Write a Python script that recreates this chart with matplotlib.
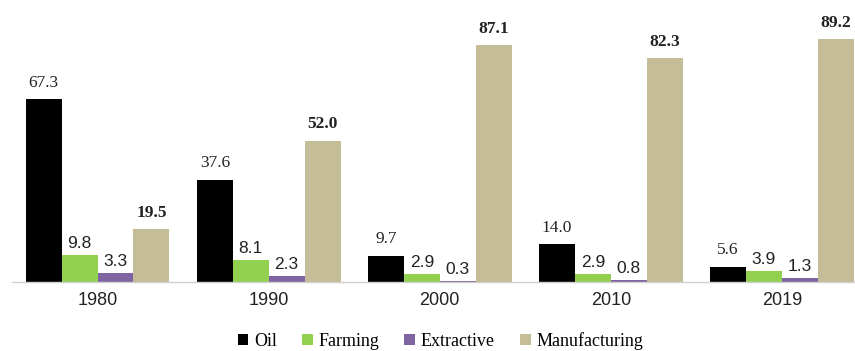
import numpy as np
import matplotlib.pyplot as plt

years = ['1980', '1990', '2000', '2010', '2019']
oil = [67.3, 37.6, 9.7, 14.0, 5.6]
farming = [9.8, 8.1, 2.9, 2.9, 3.9]
extractive = [3.3, 2.3, 0.3, 0.8, 1.3]
manufacturing = [19.5, 52.0, 87.1, 82.3, 89.2]

series = [
    ('Oil', oil, '#000000'),
    ('Farming', farming, '#92D050'),
    ('Extractive', extractive, '#8064A2'),
    ('Manufacturing', manufacturing, '#C4BD97'),
]

fig = plt.figure(figsize=(8.55, 3.51), dpi=100)
ax = fig.add_axes([12 / 855, 69 / 351, 1 - 12 / 855, 272 / 351])

x = np.arange(len(years))
w = 0.21
serif = 'Liberation Serif'
sans = 'Liberation Sans'

for i, (name, vals, col) in enumerate(series):
    pos = x + (i - 1.5) * w
    bars = ax.bar(pos, vals, w, color=col, label=name, linewidth=0)
    for b, v in zip(bars, vals):
        if name == 'Oil':
            kw = dict(family=serif, fontsize=12.5)
            off = 6
        elif name == 'Manufacturing':
            kw = dict(family=serif, fontsize=12.5, fontweight='bold')
            off = 6
        else:
            kw = dict(family=sans, fontsize=12.5)
            off = 3
        ax.annotate(f'{v:.1f}', (b.get_x() + b.get_width() / 2, v),
                    xytext=(0, off), textcoords='offset points',
                    ha='center', va='bottom', color='#222222', **kw)

ax.set_xlim(-0.5, 4.427)
ax.set_ylim(0, 100)
ax.set_xticks(x)
ax.set_xticklabels(years, family=sans, fontsize=13, color='#222222')
ax.tick_params(axis='x', length=0, pad=7)
ax.set_yticks([])
for s in ['top', 'right', 'left']:
    ax.spines[s].set_visible(False)
ax.spines['bottom'].set_color('#d0d0d0')
ax.spines['bottom'].set_linewidth(1)

fig.legend(loc='center', bbox_to_anchor=(0.515, 10 / 351), ncol=4, frameon=False,
           prop={'family': serif, 'size': 13}, handlelength=0.6, handleheight=0.6,
           handletextpad=0.3, columnspacing=1.4, borderaxespad=0)

fig.savefig('out.png', dpi=100)
